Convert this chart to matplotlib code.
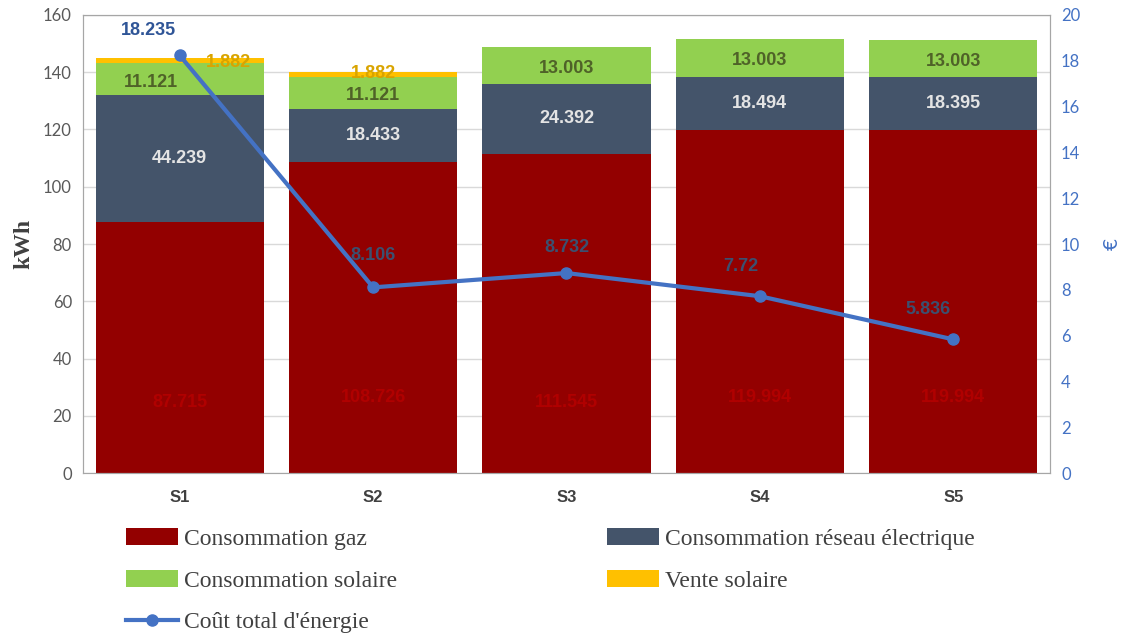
import numpy as np
import matplotlib.pyplot as plt

# Energy balance per scenario
scenarios = ['S1', 'S2', 'S3', 'S4', 'S5']
gaz = [87.715, 108.726, 111.545, 119.994, 119.994]
reseau = [44.239, 18.433, 24.392, 18.494, 18.395]
solaire = [11.121, 11.121, 13.003, 13.003, 13.003]
vente = [1.882, 1.882, 0, 0, 0]
cout = [18.235, 8.106, 8.732, 7.72, 5.836]

c_gaz = '#930000'
c_res = '#44546A'
c_sol = '#92D050'
c_ven = '#FFC000'
c_line = '#4472C4'

fig = plt.figure(figsize=(11.25, 6.38), dpi=100)
ax = fig.add_axes([0.0738, 0.2586, 0.8595, 0.7179])
ax2 = ax.twinx()

x = np.arange(len(scenarios))
w = 0.87
gaz = np.array(gaz); reseau = np.array(reseau)
solaire = np.array(solaire); vente = np.array(vente)

b1 = ax.bar(x, gaz, w, color=c_gaz, label='Consommation gaz', zorder=2)
b2 = ax.bar(x, reseau, w, bottom=gaz, color=c_res,
            label='Consommation réseau électrique', zorder=2)
b3 = ax.bar(x, solaire, w, bottom=gaz + reseau, color=c_sol,
            label='Consommation solaire', zorder=2)
b4 = ax.bar(x, vente, w, bottom=gaz + reseau + solaire, color=c_ven,
            label='Vente solaire', zorder=2)

ax.set_xlim(-0.5, len(scenarios) - 0.5)
ax.set_ylim(0, 160)
ax.set_yticks(range(0, 161, 20))
ax.yaxis.grid(True, color='#D9D9D9', linewidth=1, zorder=0)
ax.set_axisbelow(True)
ax.set_xticks(x)
ax.set_xticklabels(scenarios, fontsize=12, fontweight='bold', color='#404040',
                   family='Liberation Sans')
ax.tick_params(axis='x', length=0, pad=12)
ax.tick_params(axis='y', length=0, labelsize=12, labelcolor='#595959', pad=8)
for lab in ax.get_yticklabels():
    lab.set_family('Lato')
ax.set_ylabel('kWh', family='Liberation Serif', fontweight='bold',
              fontsize=17, color='#404040', labelpad=6)

for sp in ['left', 'top', 'right', 'bottom']:
    ax.spines[sp].set_color('#A6A6A6')
    ax2.spines[sp].set_color('#A6A6A6')
ax.spines['bottom'].set_color('#D9D9D9')

# value labels inside the stacks
lab_kw = dict(ha='center', va='center', fontsize=13, fontweight='bold',
              family='Liberation Sans')
gaz_pos = [24.5, 26.5, 24.5, 26.5, 26.5]
for i in range(len(x)):
    ax.text(x[i], gaz_pos[i], f'{gaz[i]:g}', color='#B00000', **lab_kw)
    ax.text(x[i], gaz[i] + reseau[i] / 2, f'{reseau[i]:g}', color='#E4E4E4', **lab_kw)
    ax.text(x[i] - 0.15 * (i == 0), gaz[i] + reseau[i] + solaire[i] / 2 - 1,
            f'{solaire[i]:g}', color='#4F6228', **lab_kw)
ax.text(x[0] + 0.25, gaz[0] + reseau[0] + solaire[0] + vente[0] - 1.5,
        f'{vente[0]:g}', color='#D9A400', **lab_kw)
ax.text(x[1], gaz[1] + reseau[1] + solaire[1] + vente[1] - 0.5,
        f'{vente[1]:g}', color='#D9A400', **lab_kw)

# total cost on the secondary axis
ln, = ax2.plot(x, cout, color=c_line, linewidth=3, marker='o', markersize=8,
               label="Coût total d'énergie", zorder=3)
ax2.set_ylim(0, 20)
ax2.set_yticks(range(0, 21, 2))
ax2.tick_params(axis='y', length=0, labelsize=12, labelcolor=c_line, pad=8)
for lab in ax2.get_yticklabels():
    lab.set_family('Lato')
ax2.set_ylabel('€', color=c_line, fontsize=14, labelpad=16, rotation=90)
cost_dx = [-0.16, 0.0, 0.0, -0.1, -0.13]
cost_dy = [1.1, 1.4, 1.1, 1.3, 1.3]
for i in range(len(x)):
    ax2.text(x[i] + cost_dx[i], cout[i] + cost_dy[i], f'{cout[i]:g}',
             ha='center', va='center', fontsize=13, fontweight='bold',
             color='#2F5597' if i == 0 else '#3B5070',
             family='Liberation Sans')

# legend filled column by column: left column then right column
handles = [b1, b3, ln, b2, b4]
fig.legend(handles=handles, labels=[h.get_label() for h in handles],
           loc='upper left', bbox_to_anchor=(0.093, 0.205), ncol=2,
           frameon=False, prop={'family': 'Liberation Serif', 'size': 17},
           handlelength=2.2, handleheight=0.7, columnspacing=8.9,
           labelspacing=0.85, handletextpad=0.25, labelcolor='#404040')

fig.savefig('out.png', dpi=100)
